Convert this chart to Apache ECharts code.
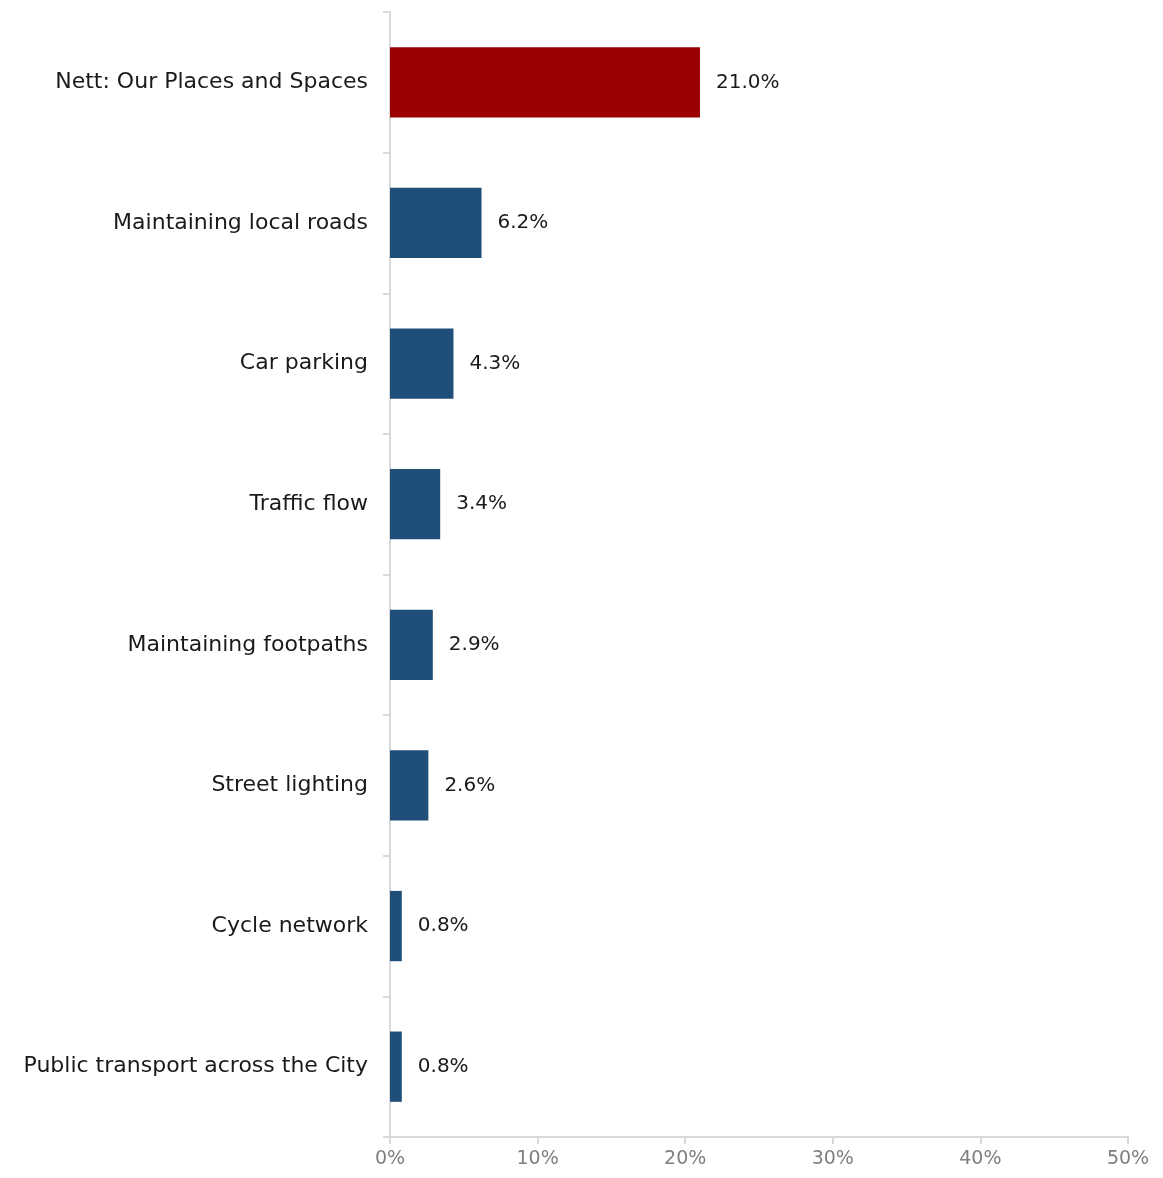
<!DOCTYPE html>
<html>
<head>
<meta charset="utf-8">
<script src="https://cdn.jsdelivr.net/npm/echarts@6/dist/echarts.min.js"></script>
<style>
  html, body { margin: 0; padding: 0; background: #ffffff; }
  #chart { width: 1163px; height: 1178px; }
</style>
</head>
<body>
<div id="chart"></div>
<script>
// Categories listed top to bottom
const categories = [
  'Nett: Our Places and Spaces',
  'Maintaining local roads',
  'Car parking',
  'Traffic flow',
  'Maintaining footpaths',
  'Street lighting',
  'Cycle network',
  'Public transport across the City'
];
// Share of responses (%)
const values = [21.0, 6.2, 4.3, 3.4, 2.9, 2.6, 0.8, 0.8];
// Bars flagged as the summary (nett) row
const isNett = [true, false, false, false, false, false, false, false];

const FONT = '"DejaVu Sans", "Noto Sans", sans-serif';
const NETT_COLOR = '#990000';
const BAR_COLOR = '#1F4E79';
const AXIS_COLOR = '#d9d9d9';

const chart = echarts.init(document.getElementById('chart'));
chart.setOption({
  animation: false,
  grid: { left: 390, right: 35, top: 12, bottom: 41, containLabel: false },
  xAxis: {
    type: 'value',
    min: 0,
    max: 50,
    interval: 10,
    axisLine: { show: true, lineStyle: { color: AXIS_COLOR, width: 2 } },
    axisTick: { show: true, length: 7, lineStyle: { color: AXIS_COLOR, width: 2 } },
    splitLine: { show: false },
    axisLabel: {
      formatter: '{value}%',
      color: '#7f7f7f',
      fontFamily: FONT,
      fontSize: 19,
      margin: 13
    }
  },
  yAxis: {
    type: 'category',
    inverse: true,
    data: categories,
    axisLine: { show: true, lineStyle: { color: AXIS_COLOR, width: 2 } },
    axisTick: { show: true, length: 7, lineStyle: { color: AXIS_COLOR, width: 2 } },
    axisLabel: {
      color: '#1a1a1a',
      fontFamily: FONT,
      fontSize: 22,
      margin: 22,
      padding: [2, 0, 0, 0]
    }
  },
  series: [{
    type: 'bar',
    barWidth: '50%',
    data: values.map((v, i) => ({
      value: v,
      itemStyle: { color: isNett[i] ? NETT_COLOR : BAR_COLOR }
    })),
    label: {
      show: true,
      position: 'right',
      distance: 16,
      color: '#1a1a1a',
      fontFamily: FONT,
      fontSize: 20,
      padding: [2, 0, 0, 0],
      formatter: p => p.value.toFixed(1) + '%'
    }
  }]
});
</script>
</body>
</html>
